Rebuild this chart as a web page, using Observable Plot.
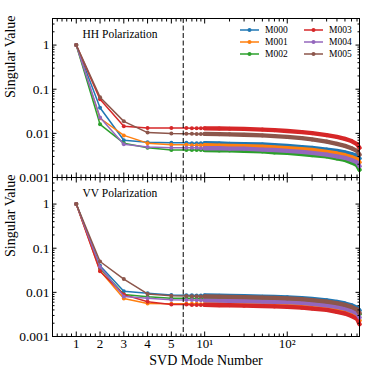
<!DOCTYPE html>
<html><head><meta charset="utf-8">
<script src="https://cdn.jsdelivr.net/npm/d3@7"></script>
<script src="https://cdn.jsdelivr.net/npm/@observablehq/plot@0.6"></script>
<style>
body{margin:0;background:#fff;}
#wrap{position:relative;width:374px;height:374px;overflow:hidden;font-family:"Liberation Serif",serif;color:#000;}
#wrap > svg{position:absolute;left:0;}
.leg{position:absolute;font-size:9.5px;line-height:10px;white-space:nowrap;display:flex;align-items:center;}
.leg svg{margin-right:6px;}
</style></head><body><div id="wrap"></div>
<script>
// ---- data ----
const modes = [1,2,3,4,5,6,7,8,9,10,15,20,30,50,70,100,150,200,300,400,500,600,700,750];
const seriesNames = ["M000","M001","M002","M003","M004","M005"];
const seriesColors = ["#1f77b4","#ff7f0e","#2ca02c","#d62728","#9467bd","#8c564b"];

const hhM000 = [1,0.038,0.0070,0.0063,0.0061,0.0061,0.0060,0.0060,0.0060,0.0060,0.0059,0.0058,0.0057,0.0056,0.0054,0.0052,0.0049,0.0047,0.0043,0.0040,0.0037,0.0034,0.0031,0.0027];
const hhM001 = [1,0.022,0.0090,0.0060,0.0055,0.0055,0.0054,0.0054,0.0054,0.0054,0.0053,0.0052,0.0051,0.0050,0.0048,0.0046,0.0044,0.0042,0.0038,0.0035,0.0032,0.0029,0.0026,0.0022];
const hhM002 = [1,0.016,0.0060,0.0047,0.0042,0.0042,0.0042,0.0042,0.0042,0.0042,0.0041,0.0041,0.0040,0.0039,0.0037,0.0036,0.0034,0.0032,0.0030,0.0027,0.0025,0.0022,0.0019,0.0015];
const hhM003 = [1,0.059,0.0145,0.0133,0.0132,0.0132,0.0131,0.0131,0.0131,0.0130,0.0129,0.0128,0.0126,0.0122,0.0118,0.0113,0.0107,0.0101,0.0091,0.0083,0.0075,0.0067,0.0057,0.0047];
const hhM004 = [1,0.023,0.0057,0.0049,0.0047,0.0047,0.0047,0.0047,0.0046,0.0046,0.0046,0.0045,0.0045,0.0043,0.0042,0.0040,0.0038,0.0036,0.0033,0.0030,0.0028,0.0025,0.0022,0.0018];
const hhM005 = [1,0.066,0.0187,0.0104,0.0099,0.0098,0.0098,0.0097,0.0097,0.0097,0.0096,0.0095,0.0093,0.0090,0.0087,0.0083,0.0078,0.0073,0.0065,0.0058,0.0052,0.0046,0.0040,0.0033];

const vvM000 = [1,0.040,0.0106,0.0095,0.0087,0.0086,0.0086,0.0085,0.0085,0.0085,0.0084,0.0083,0.0082,0.0080,0.0079,0.0077,0.0074,0.0071,0.0066,0.0061,0.0056,0.0051,0.0045,0.0039];
const vvM001 = [1,0.031,0.0073,0.0056,0.0055,0.0055,0.0055,0.0055,0.0054,0.0054,0.0054,0.0053,0.0053,0.0052,0.0051,0.0050,0.0048,0.0046,0.0043,0.0040,0.0036,0.0032,0.0028,0.0023];
const vvM002 = [1,0.035,0.0089,0.0080,0.0074,0.0074,0.0074,0.0073,0.0073,0.0073,0.0072,0.0072,0.0071,0.0070,0.0069,0.0068,0.0066,0.0064,0.0060,0.0055,0.0050,0.0045,0.0039,0.0032];
const vvM003 = [1,0.030,0.0089,0.0061,0.0053,0.0053,0.0052,0.0052,0.0052,0.0052,0.0051,0.0051,0.0050,0.0049,0.0048,0.0047,0.0045,0.0043,0.0040,0.0036,0.0033,0.0029,0.0025,0.0019];
const vvM004 = [1,0.038,0.0081,0.0074,0.0068,0.0067,0.0067,0.0066,0.0066,0.0066,0.0065,0.0064,0.0063,0.0062,0.0061,0.0060,0.0058,0.0055,0.0051,0.0047,0.0043,0.0038,0.0033,0.0027];
const vvM005 = [1,0.050,0.020,0.0092,0.0084,0.0083,0.0082,0.0082,0.0081,0.0081,0.0080,0.0079,0.0078,0.0076,0.0075,0.0073,0.0070,0.0067,0.0062,0.0057,0.0052,0.0047,0.0041,0.0034];

const xMajor = [1,2,3,4,5,10,100];
const xMajorLabels = ["1","2","3","4","5","10\u00B9","10\u00B2"];
const yMajor = [0.001,0.01,0.1,1];
const yMajorLabels = ["0.001","0.01","0.1","1"];
const dashedAt = [5.5];
const xLabel = "SVD Mode Number";
const yLabel = "Singular Value";
const panelTitles = ["HH Polarization","VV Polarization"];

// ---- symmetric-log x transform (linear up to threshold, log beyond) ----
const LIN = 5.5, DEC = 3.474;
const sx = m => m <= LIN ? m : LIN + DEC * Math.log10(m / LIN);
const xMax = sx(750);

const xMinor = [];
for (let k = 1; k < 28; k++) { const v = k * 0.2; if (Math.abs(v - Math.round(v)) > 1e-6) xMinor.push(v); }
[6,7,8,9,20,30,40,50,60,70,80,90,200,300,400,500,600,700].forEach(v => xMinor.push(v));
const yMinor = [];
for (let e = -3; e <= 0; e++) for (let k = 2; k <= 9; k++) { const v = k * Math.pow(10, e); if (v <= 4) yMinor.push(v); }

const xLab = new Map(xMajor.map((m, i) => [sx(m), xMajorLabels[i]]));
const yLab = new Map(yMajor.map((v, i) => [v, yMajorLabels[i]]));

function rowsOf(arrs) {
  return arrs.map((vals, s) => modes.map((m, i) => ({series: seriesNames[s], mode: m, x: sx(m), y: vals[i]})));
}
const hhRows = rowsOf([hhM000, hhM001, hhM002, hhM003, hhM004, hhM005]);
const vvRows = rowsOf([vvM000, vvM001, vvM002, vvM003, vvM004, vvM005]);

function tickAxes() {
  const M = 4.5, m = 2.5;
  const xs = xMajor.map(sx), xn = xMinor.map(sx);
  const common = {fill: "none", label: null, stroke: "black"};
  return [
    Plot.axisX({...common, anchor: "bottom", ticks: xs, tickSize: -M}),
    Plot.axisX({...common, anchor: "bottom", ticks: xn, tickSize: -m}),
    Plot.axisX({...common, anchor: "top", ticks: xs, tickSize: -M}),
    Plot.axisX({...common, anchor: "top", ticks: xn, tickSize: -m}),
    Plot.axisY({...common, anchor: "left", ticks: yMajor, tickSize: -M}),
    Plot.axisY({...common, anchor: "left", ticks: yMinor, tickSize: -m}),
    Plot.axisY({...common, anchor: "right", ticks: yMajor, tickSize: -M}),
    Plot.axisY({...common, anchor: "right", ticks: yMinor, tickSize: -m})
  ];
}

function seriesMarks(rows) {
  const out = [];
  rows.forEach((r, s) => {
    const c = seriesColors[s];
    out.push(Plot.line(r, {x: "x", y: "y", stroke: c, strokeWidth: 1.5}));
    out.push(Plot.line(r.filter(d => d.mode >= 10), {x: "x", y: "y", stroke: c, strokeWidth: 4.3}));
    out.push(Plot.dot(r, {x: "x", y: "y", r: 2, fill: c, stroke: "none"}));
  });
  return out;
}

function panel(rows, title, isTop) {
  const h = isTop ? 178 : 198;
  const marks = [
    ...seriesMarks(rows),
    Plot.ruleX(dashedAt, {x: sx, stroke: "black", strokeWidth: 1, strokeDasharray: "5,2.5"}),
    ...tickAxes(),
    Plot.axisY({anchor: "left", ticks: yMajor, tickFormat: d => yLab.get(d), tickSize: 0, tickPadding: 3, label: null, fontSize: 13.5, fill: "black"}),
    Plot.text([title], {text: d => d, frameAnchor: "top-left", dx: 30, dy: 16, textAnchor: "start", lineAnchor: "middle", fontSize: 11.5, fill: "black"}),
    Plot.text([yLabel], {text: d => d, frameAnchor: "left", dx: -42, rotate: -90, fontSize: 14, fill: "black"}),
    Plot.frame({stroke: "black", strokeWidth: 1})
  ];
  if (!isTop) {
    marks.push(Plot.axisX({anchor: "bottom", ticks: xMajor.map(sx), tickFormat: d => xLab.get(d), tickSize: 0, tickPadding: 2, label: null, fontSize: 13, fill: "black"}));
    marks.push(Plot.text([xLabel], {text: d => d, frameAnchor: "bottom", dy: 24, lineAnchor: "middle", fontSize: 14, fill: "black"}));
  }
  return Plot.plot({
    width: 374, height: h,
    marginLeft: 52, marginRight: 15,
    marginTop: isTop ? 18 : 1, marginBottom: isTop ? 1 : 38,
    x: {type: "linear", domain: [0, xMax], axis: null},
    y: {type: "log", domain: [0.001, 4], axis: null},
    style: {background: "transparent", overflow: "visible", fontFamily: "Liberation Serif, serif", color: "black"},
    marks
  });
}

const wrap = document.getElementById("wrap");
const topPanel = panel(hhRows, panelTitles[0], true);
topPanel.style.top = "0px";
const botPanel = panel(vvRows, panelTitles[1], false);
botPanel.style.top = "176px";
wrap.appendChild(botPanel);
wrap.appendChild(topPanel);

// legend (two columns, three rows) inside upper panel
seriesNames.forEach((name, i) => {
  const col = i < 3 ? 0 : 1, row = i % 3;
  const div = document.createElement("div");
  div.className = "leg";
  div.style.left = (col === 0 ? 240 : 304) + "px";
  div.style.top = (25 + row * 12) + "px";
  div.innerHTML = `<svg width="19" height="8"><line x1="0" y1="4" x2="19" y2="4" stroke="${seriesColors[i]}" stroke-width="1.5"/><circle cx="9.5" cy="4" r="2" fill="${seriesColors[i]}"/></svg><span>${name}</span>`;
  wrap.appendChild(div);
});
</script></body></html>
